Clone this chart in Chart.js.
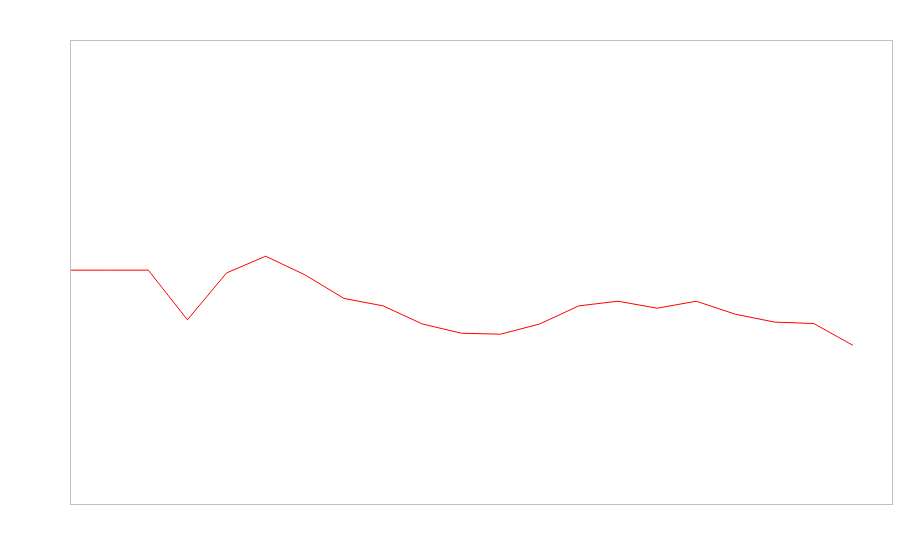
<!DOCTYPE html>
<html>
<head>
<meta charset="utf-8">
<script src="https://cdn.jsdelivr.net/npm/chart.js@4/dist/chart.umd.min.js"></script>
<style>
  html, body { margin: 0; padding: 0; background: #fff; }
  #wrap { width: 900px; height: 560px; }
</style>
</head>
<body>
<div id="wrap"><canvas id="c"></canvas></div>
<script>
// 22 slots on the x axis, the last one is empty
const LABELS = ["1", "2", "3", "4", "5", "6", "7", "8", "9", "10", "11", "12", "13", "14", "15", "16", "17", "18", "19", "20", "21", "22"];
const VALUES = [50.4, 50.4, 50.4, 39.7, 49.8, 53.4, 49.4, 44.3, 42.7, 38.8, 36.8, 36.6, 38.8, 42.7, 43.7, 42.2, 43.7, 40.9, 39.2, 38.9, 34.2];
const Y_MIN = 0, Y_MAX = 100;

// plain grey frame round the plot area
const frame = {
  id: "frame",
  afterDraw(chart) {
    const { ctx, chartArea: a } = chart;
    ctx.save();
    ctx.strokeStyle = "#c0c0c0";
    ctx.lineWidth = 1;
    ctx.strokeRect(Math.round(a.left) + 0.5, Math.round(a.top) + 0.5, Math.round(a.right - a.left), Math.round(a.bottom - a.top));
    ctx.restore();
  },
};

new Chart(document.getElementById("c"), {
  type: "line",
  data: {
    labels: LABELS,
    datasets: [{ data: VALUES, borderColor: "#ff0000", borderWidth: 1, pointRadius: 0, tension: 0, fill: false }],
  },
  options: {
    responsive: true, maintainAspectRatio: false, animation: false,
    layout: { padding: { left: 70, top: 40, right: 8, bottom: 56 } },
    plugins: { legend: { display: false }, tooltip: { enabled: false } },
    scales: {
      x: { display: false, offset: false },
      y: { display: false, min: Y_MIN, max: Y_MAX },
    },
  },
  plugins: [frame],
});
</script>
</body>
</html>
